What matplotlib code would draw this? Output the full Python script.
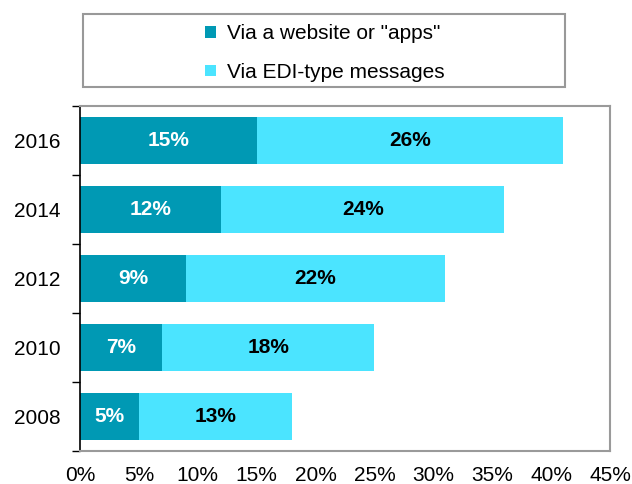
import matplotlib
matplotlib.use("Agg")
import matplotlib.pyplot as plt
from matplotlib.patches import Rectangle
from matplotlib.ticker import FixedLocator

years = ["2008", "2010", "2012", "2014", "2016"]
website = [5, 7, 9, 12, 15]
edi = [13, 18, 22, 24, 26]
xticks = [0, 5, 10, 15, 20, 25, 30, 35, 40, 45]
series_names = ['Via a website or "apps"', "Via EDI-type messages"]

dark = "#0099B4"
light = "#4BE4FF"

plt.rcParams["font.family"] = ["Liberation Sans", "DejaVu Sans"]
FS = 15

fig = plt.figure(figsize=(6.32, 4.84), dpi=100)
ax = fig.add_axes([80/632, 1-451/484, 530/632, 345/484])

pos = list(range(len(years)))
h = 0.67
b1 = ax.barh(pos, website, height=h, color=dark, label=series_names[0])
b2 = ax.barh(pos, edi, left=website, height=h, color=light, label=series_names[1])

for i in pos:
    ax.text(website[i]/2, i, f"{website[i]}%", ha="center", va="center",
            color="white", fontweight="bold", fontsize=FS)
    ax.text(website[i] + edi[i]/2, i, f"{edi[i]}%", ha="center", va="center",
            color="black", fontweight="bold", fontsize=FS)

ax.set_xlim(0, 45)
ax.set_ylim(-0.5, len(years) - 0.5)
ax.set_xticks(xticks)
ax.set_xticklabels([f"{t}%" for t in xticks], fontsize=FS)
ax.tick_params(axis="x", length=0, pad=10.5)
ax.set_yticks(pos)
ax.set_yticklabels(years, fontsize=FS)
ax.tick_params(axis="y", which="major", length=0, pad=14)
ax.yaxis.set_minor_locator(FixedLocator([p - 0.5 for p in pos] + [len(years) - 0.5]))
ax.tick_params(axis="y", which="minor", length=6, width=1, color="black", direction="out")

for s in ["top", "right", "bottom"]:
    ax.spines[s].set_color("#9a9a9a")
    ax.spines[s].set_linewidth(1.5)
ax.spines["left"].set_color("black")
ax.spines["left"].set_linewidth(1.2)

# legend frame
fig.patches.append(Rectangle((83/632, 1-87/484), 482/632, 73/484, transform=fig.transFigure,
                             fill=False, edgecolor="#999999", linewidth=1.5))
fig.legend(handles=[b1, b2], labels=series_names, loc="center",
           bbox_to_anchor=(325/632, 1-53/484), frameon=False, fontsize=FS,
           handlelength=0.5, handleheight=0.5, handletextpad=0.55, labelspacing=0.95)

fig.savefig("out.png", dpi=100)
